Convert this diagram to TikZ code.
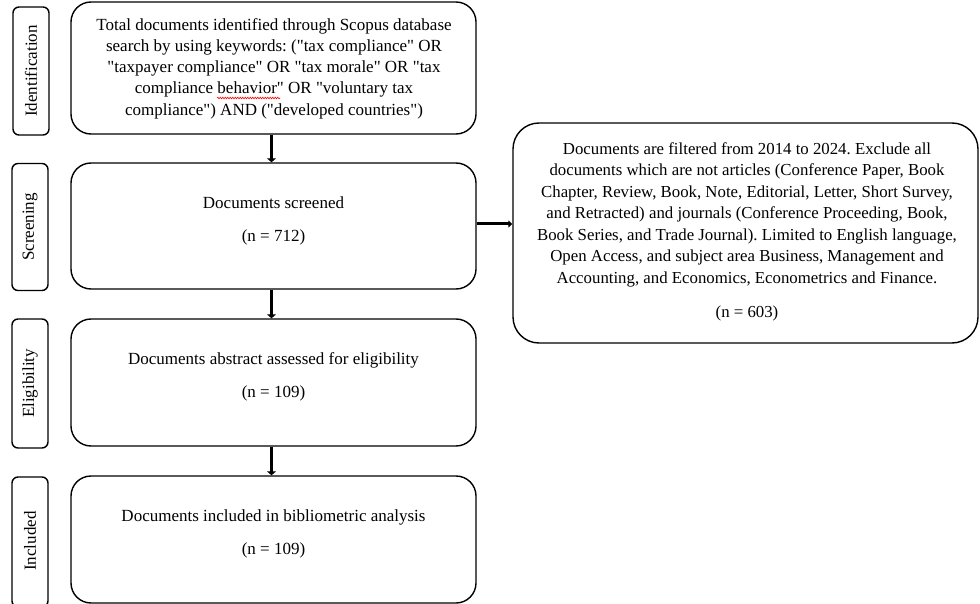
\documentclass[tikz,border=0pt]{standalone}
\usepackage{fontspec}
\setmainfont{Liberation Serif}[Ligatures=TeXOff]
\usetikzlibrary{arrows.meta,decorations.pathmorphing}
\frenchspacing
\begin{document}
\begin{tikzpicture}[x=1pt,y=-1pt,
  every node/.style={inner sep=0pt},
  box/.style={draw=black,line width=1.4pt,rounded corners=20pt,minimum width=405pt},
  side/.style={draw=black,line width=1.4pt,rounded corners=6pt,minimum width=36pt},
  txt/.style={font=\fontsize{17}{21.3}\selectfont,align=center},
  rtxt/.style={font=\fontsize{16.8}{21.5}\selectfont,align=center},
  varr/.style={line width=3.6pt,-{Triangle[width=9pt,length=4pt]}},
  harr/.style={line width=3pt,-{Triangle[width=7pt,length=4pt]}}]
\useasboundingbox (0,0) rectangle (980,604);
% side labels
\node[side,minimum height=128pt] (sid) at (31,71) {};
\node[txt,rotate=90] (tid) at (sid.center) {Identification};
\node[side,minimum height=127pt] (ssc) at (30,227) {};
\node[txt,rotate=90] (tsc) at (ssc.center) {Screening};
\node[side,minimum height=129pt] (sel) at (30,383.5) {};
\node[txt,rotate=90] (tel) at (sel.center) {Eligibility};
\node[side,minimum height=130pt] (sin) at (30,542) {};
\node[txt,rotate=90] (tin) at (30,541) {Included};
% main boxes
\node[box,minimum height=132pt] (b1) at (273.5,68) {};
\node[txt] (t1) at (274,68.5) {Total documents identified through Scopus database\\
search by using keywords: ("tax compliance" OR\\
"taxpayer compliance" OR "tax morale" OR "tax\\
compliance behavior" OR "voluntary tax\\
compliance") AND ("developed countries")};
\coordinate (sq1) at (217,98);
\coordinate (sq2) at (280,98);
\draw[red,line width=0.6pt,decorate,decoration={snake,amplitude=0.8pt,segment length=2.5pt}] (sq1) -- (sq2);
\node[box,minimum height=126pt] (b2) at (273.5,226) {};
\node[txt] (t2a) at (273.5,203) {Documents screened};
\node[txt] (t2b) at (273.5,237) {(n = 712)};
\node[box,minimum height=127pt] (b3) at (273.5,382.5) {};
\node[txt] (t3a) at (273.5,360) {Documents abstract assessed for eligibility};
\node[txt] (t3b) at (273.5,393) {(n = 109)};
\node[box,minimum height=127pt] (b4) at (273.5,539.5) {};
\node[txt] (t4a) at (273.5,517) {Documents included in bibliometric analysis};
\node[txt] (t4b) at (273.5,550) {(n = 109)};
% right box
\node[draw=black,line width=1.4pt,rounded corners=26pt,minimum width=465pt,minimum height=220pt] (r) at (745.5,233) {};
\node[rtxt] (rt) at (747,214.5) {Documents are filtered from 2014 to 2024. Exclude all\\
documents which are not articles (Conference Paper, Book\\
Chapter, Review, Book, Note, Editorial, Letter, Short Survey,\\
and Retracted) and journals (Conference Proceeding, Book,\\
Book Series, and Trade Journal). Limited to English language,\\
Open Access, and subject area Business, Management and\\
Accounting, and Economics, Econometrics and Finance.};
\node[rtxt] (rn) at (747,313) {(n = 603)};
% arrows
\draw[varr] ([xshift=-2pt]b1.south) -- ([xshift=-2pt]b2.north);
\draw[varr] ([xshift=-2pt]b2.south) -- ([xshift=-2pt]b3.north);
\draw[varr] ([xshift=-2pt]b3.south) -- ([xshift=-2pt]b4.north);
\draw[harr] (b2.east |- 0,224) -- (r.west |- 0,224);
\end{tikzpicture}
\end{document}
